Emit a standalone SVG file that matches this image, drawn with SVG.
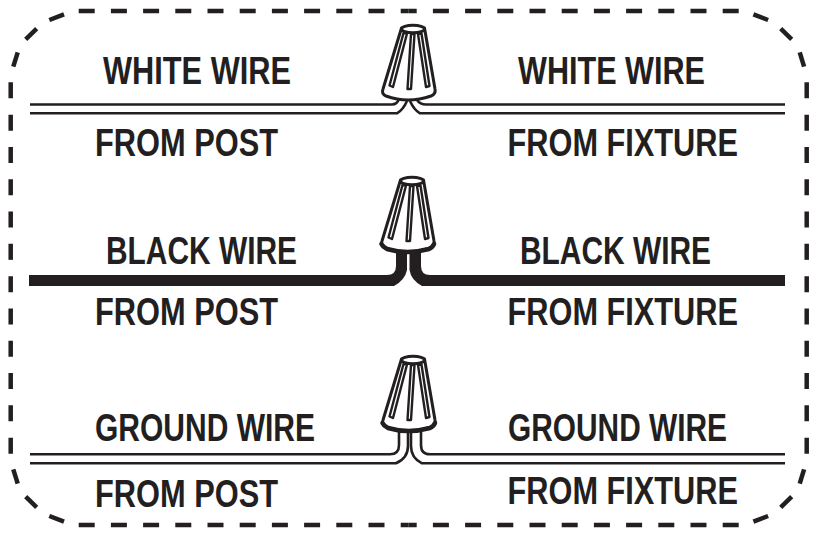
<svg xmlns="http://www.w3.org/2000/svg" width="817" height="539" viewBox="0 0 817 539">
<style>
.t{font-family:"Liberation Sans",Arial,sans-serif;font-size:38.500px;font-weight:700;fill:#231f20}
.w{fill:none;stroke:#231f20;stroke-width:2.600}
.c{fill:#fff;stroke:#231f20;stroke-width:3;stroke-linejoin:round}
.r{fill:#fff;stroke:#231f20;stroke-width:2.400;stroke-linejoin:round}
.b{fill:none;stroke:#231f20;stroke-width:4.500}
.bt{stroke-dasharray:16 16.200;stroke-dashoffset:8}
.bl{stroke-dasharray:16 16.300;stroke-dashoffset:24.150}
.h{fill:none;stroke:#231f20;stroke-width:4.500;stroke-linecap:round}
</style>
<defs>
<g id="cone">
<path class="c" d="M401.500 28 L383 89 Q381 94 386 96 Q408 104 431 96 Q436 94 435 89 L424.500 28 Z"/>
<ellipse class="c" cx="413" cy="29" rx="11.500" ry="3.800"/>
<path class="r" d="M403.500 33 L407 33.500 L393 87 L389.500 85.500 Z"/>
<path class="r" d="M411 34 L414.500 34 L411 89 L407.500 89 Z"/>
<path class="r" d="M418 34 L421.500 33.500 L429.500 86 L426 87 Z"/>
</g>
<path id="heavy" class="h" d="M382.500 92 Q384 95 388 97 Q408 103 430 97 Q434 95 435 92"/>
<g id="corner">
<path class="b bt" d="M408.700 11 H78.500"/>
<path class="b" d="M49.300 20 L64 14.300"/>
<path class="b" d="M25.700 39.300 L36.700 28.700"/>
<path class="b" d="M13.300 66.700 L17.700 52.300"/>
<path class="b bl" d="M10.700 268 V82"/>
</g>
</defs>
<g id="border">
<use href="#corner"/>
<use href="#corner" transform="matrix(-1 0 0 1 817.400 0)"/>
<use href="#corner" transform="matrix(1 0 0 -1 0 536)"/>
<use href="#corner" transform="matrix(-1 0 0 -1 817.400 536)"/>
</g>
<g id="connectors">
<path class="w" d="M30 104.500 H392 Q397 104.500 399 99"/>
<path class="w" d="M30 113.300 H397 Q403 110 407 101"/>
<path class="w" d="M785 104.500 H426 Q420 104.500 417 100"/>
<path class="w" d="M785 113.300 H420 Q414 110 410 101"/>
<path fill="#231f20" d="M29 275 H387 Q396 275 396 266 V248 H407 V270 Q405 280 394 286 H29 Z"/>
<path fill="#231f20" d="M785 275 H430 Q421 275 421 266 V248 H409.500 V270 Q411 280 422 286 H785 Z"/>
<path class="w" d="M30 454.300 H390 Q399 454.300 399 445 V428"/>
<path class="w" d="M30 463.300 H396 Q408 458 408 446 V428"/>
<path class="w" d="M785 454.300 H430 Q421 454.300 421 445 V428"/>
<path class="w" d="M785 463.300 H422 Q411 458 411 446 V428"/>
</g>
<g id="wire-nut-white"><use href="#cone"/></g>
<g id="wire-nut-black"><use href="#cone" x="-1" y="152"/><use href="#heavy" x="-1" y="152"/></g>
<g id="wire-nut-ground"><use href="#cone" y="331"/><use href="#heavy" y="331"/></g>
<g id="labels-white">
<text class="t" x="103" y="84" textLength="188" lengthAdjust="spacingAndGlyphs">WHITE WIRE</text>
<text class="t" x="518" y="84" textLength="187" lengthAdjust="spacingAndGlyphs">WHITE WIRE</text>
<text class="t" x="95" y="156" textLength="183" lengthAdjust="spacingAndGlyphs">FROM POST</text>
<text class="t" x="507.500" y="156" textLength="230.500" lengthAdjust="spacingAndGlyphs">FROM FIXTURE</text>
</g>
<g id="labels-black">
<text class="t" x="106" y="264" textLength="191" lengthAdjust="spacingAndGlyphs">BLACK WIRE</text>
<text class="t" x="520" y="264" textLength="191" lengthAdjust="spacingAndGlyphs">BLACK WIRE</text>
<text class="t" x="95" y="325" textLength="183" lengthAdjust="spacingAndGlyphs">FROM POST</text>
<text class="t" x="507.500" y="325" textLength="230.500" lengthAdjust="spacingAndGlyphs">FROM FIXTURE</text>
</g>
<g id="labels-ground">
<text class="t" x="95" y="441" textLength="220" lengthAdjust="spacingAndGlyphs">GROUND WIRE</text>
<text class="t" x="508" y="441" textLength="219" lengthAdjust="spacingAndGlyphs">GROUND WIRE</text>
<text class="t" x="95" y="507" textLength="183" lengthAdjust="spacingAndGlyphs">FROM POST</text>
<text class="t" x="507.500" y="504" textLength="230.500" lengthAdjust="spacingAndGlyphs">FROM FIXTURE</text>
</g>
</svg>
